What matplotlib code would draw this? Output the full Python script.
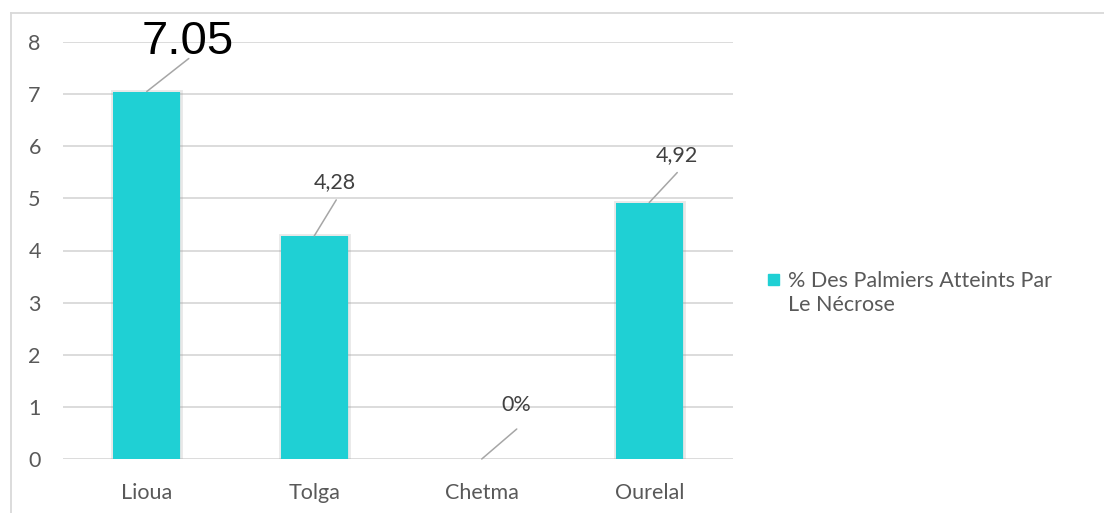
import matplotlib.pyplot as plt
import matplotlib.patheffects as pe
from matplotlib.lines import Line2D
from matplotlib.patches import Rectangle

sites = ['Lioua', 'Tolga', 'Chetma', 'Ourelal']
pct_necrose = [7.05, 4.28, 0.0, 4.92]
value_labels = ['7.05', '4,28', '0%', '4,92']
series_name = '% Des Palmiers Atteints Par\nLe Nécrose'

bar_color = '#1fd0d4'
grid_color = '#d9d9d9'
text_color = '#595959'

plt.rcParams['font.family'] = ['Lato', 'DejaVu Sans']

fig = plt.figure(figsize=(11.04, 5.13), dpi=100)
ax = fig.add_axes([63 / 1104, 1 - 459 / 513, 670 / 1104, 417 / 513])

x = range(len(sites))
bars = ax.bar(x, pct_necrose, width=0.4, color=bar_color, zorder=3)
for b, v in zip(bars, pct_necrose):
    if v > 0:
        b.set_path_effects([pe.Stroke(linewidth=3.5, foreground='#9a9a9a', alpha=0.22),
                            pe.Normal()])

ax.set_xlim(-0.5, len(sites) - 0.5)
ax.set_ylim(0, 8)
ax.set_yticks(range(0, 9))
ax.set_xticks(list(x))
ax.set_xticklabels(sites)
ax.grid(axis='y', color=grid_color, lw=1.3, zorder=0)
ax.tick_params(axis='both', length=0, labelsize=15.5, labelcolor=text_color)
ax.tick_params(axis='x', pad=17)
ax.tick_params(axis='y', pad=16)
for s in ax.spines.values():
    s.set_visible(False)

# label offsets (pixels): text centre and leader-line end, relative to bar top
text_off = [(41, 50), (21, 54), (35, 54), (28, 47)]
line_off = [(42, 33), (22, 36), (35, 30), (28, 30)]
for i, (v, lab) in enumerate(zip(pct_necrose, value_labels)):
    ax.annotate('', xy=(i, v), xytext=line_off[i], textcoords='offset pixels',
                arrowprops=dict(arrowstyle='-', color='#a6a6a6', lw=1.1,
                                shrinkA=0, shrinkB=0), zorder=4)
    if i == 0:
        ax.annotate(lab, xy=(i, v), xytext=text_off[i], textcoords='offset pixels',
                    ha='center', va='center', fontsize=34, color='black',
                    family='Liberation Sans', zorder=5)
    else:
        ax.annotate(lab, xy=(i, v), xytext=text_off[i], textcoords='offset pixels',
                    ha='center', va='center', fontsize=15.5, color='#404040', zorder=5)

# legend drawn beside the plot
fig.patches.append(Rectangle((768 / 1104, 1 - 285 / 513), 11 / 1104, 11 / 513,
                             transform=fig.transFigure, color=bar_color))
fig.text(788 / 1104, 1 - 293 / 513, series_name, ha='left', va='center',
         fontsize=15.5, color=text_color, linespacing=1.3)

# chart frame
fig.add_artist(Line2D([11 / 1104, 11 / 1104], [0, 1 - 13 / 513], color=grid_color,
                      lw=1.3, transform=fig.transFigure))
fig.add_artist(Line2D([11 / 1104, 1], [1 - 13 / 513, 1 - 13 / 513], color=grid_color,
                      lw=1.3, transform=fig.transFigure))

fig.savefig('out.png', dpi=100)
